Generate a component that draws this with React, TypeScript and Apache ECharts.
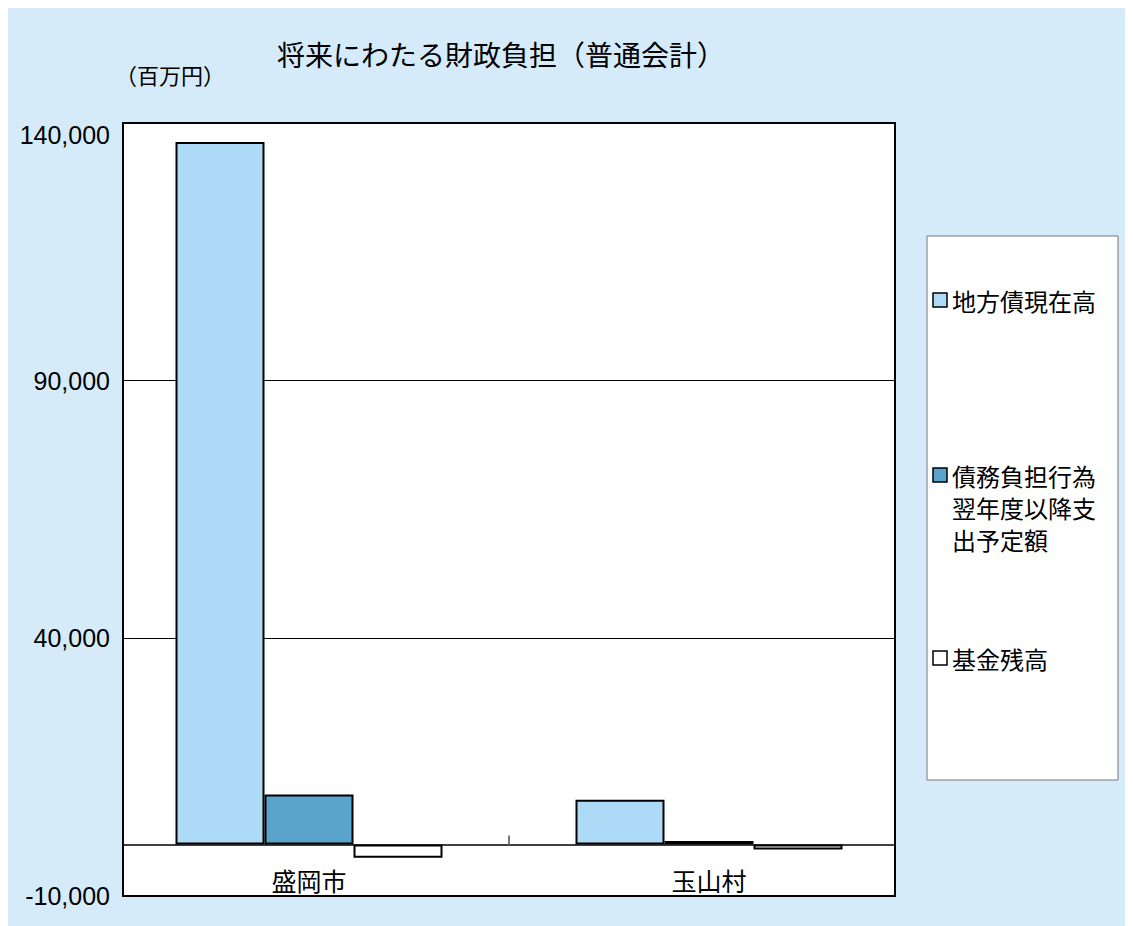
import { useEffect, useRef } from 'react';
import * as echarts from 'echarts';

// Municipalities compared
const categories = ['盛岡市', '玉山村'];

// Series names and the wrapped text shown in the legend box
const seriesNames = ['地方債現在高', '債務負担行為翌年度以降支出予定額', '基金残高'];
const legendLabels = ['地方債現在高', '債務負担行為\n翌年度以降支\n出予定額', '基金残高'];

// Values in millions of yen
const localBondBalance = [136300, 8700];
const futureCommitments = [9700, 650];
const fundBalance = [-2600, -1000];

const seriesColors = ['#ADDBF7', '#5AA3CB', '#FFFFFF'];

// Value axis range
const yMin = -10000;
const yMax = 140000;
const yStep = 50000;

const CJK = "'Noto Sans CJK JP', 'Noto Sans', sans-serif";
const NUM = "'Liberation Sans', Arial, sans-serif";

// Plot frame (chart coordinates)
const FRAME_LEFT = 115;
const FRAME_TOP = 115;
const FRAME_W = 772;
const FRAME_H = 773;
// distance from the frame bottom up to the zero line
const ZERO_FROM_BOTTOM = (FRAME_H * (0 - yMin)) / (yMax - yMin);

export default function App() {
  const ref = useRef<HTMLDivElement>(null);

  useEffect(() => {
    document.documentElement.style.overflow = 'hidden';
    const chart = echarts.init(ref.current!, null, { renderer: 'svg' });

    const seriesData = [localBondBalance, futureCommitments, fundBalance];

    const legendCenters = [292, 467, 650];
    const legendGraphics: any[] = [
      {
        type: 'rect',
        shape: { x: 919, y: 228, width: 191, height: 544 },
        style: { fill: '#fff', stroke: '#777', lineWidth: 1 },
      },
    ];
    legendLabels.forEach((label, i) => {
      const cy = legendCenters[i];
      const lines = label.split('\n').length;
      legendGraphics.push({
        type: 'rect',
        shape: { x: 925, y: cy - 7, width: 14, height: 14 },
        style: { fill: seriesColors[i], stroke: '#000', lineWidth: 1.5 },
      });
      legendGraphics.push({
        type: 'text',
        style: {
          text: label,
          x: 944,
          y: lines > 1 ? cy - 16 : cy,
          font: `24px ${CJK}`,
          fill: '#000',
          lineHeight: 32,
          textAlign: 'left',
          textVerticalAlign: lines > 1 ? 'top' : 'middle',
        },
      });
    });

    chart.setOption({
      animation: false,
      backgroundColor: '#D5EBF9',
      grid: [
        {
          left: FRAME_LEFT,
          top: FRAME_TOP,
          width: FRAME_W,
          height: FRAME_H,
          show: true,
          backgroundColor: '#FFFFFF',
          borderWidth: 0,
          containLabel: false,
          outerBoundsMode: 'none',
        },
        {
          left: FRAME_LEFT - 14,
          top: FRAME_TOP,
          width: FRAME_W + 28,
          height: FRAME_H,
          containLabel: false,
          outerBoundsMode: 'none',
        },
      ],
      xAxis: [
        {
          gridIndex: 0,
          type: 'category',
          data: categories,
          axisLine: { onZero: true, lineStyle: { color: '#000', width: 1.5 } },
          axisTick: { show: true, inside: true, length: 9, lineStyle: { color: '#777', width: 2 } },
          axisLabel: { show: false },
        },
        {
          gridIndex: 1,
          type: 'category',
          data: categories,
          position: 'bottom',
          offset: -ZERO_FROM_BOTTOM,
          axisLine: { show: false, onZero: false },
          axisTick: { show: false },
          axisLabel: { margin: 23, fontSize: 25, color: '#000', fontFamily: CJK },
        },
      ],
      yAxis: [
        {
          gridIndex: 0,
          type: 'value',
          min: yMin,
          max: yMax,
          interval: yStep,
          axisLine: { show: false },
          axisTick: { show: false },
          splitLine: { lineStyle: { color: '#000', width: 1 } },
          axisLabel: {
            margin: 13,
            fontSize: 25,
            color: '#000',
            fontFamily: NUM,
            formatter: (v: number) =>
              v === yMax ? `{top|${v.toLocaleString('en-US')}}` : v.toLocaleString('en-US'),
            rich: {
              top: { fontSize: 25, fontFamily: NUM, color: '#000', padding: [24, 0, 0, 0] },
            },
          },
        },
        { gridIndex: 1, type: 'value', min: yMin, max: yMax, interval: yStep, show: false },
      ],
      series: seriesNames.map((name, i) => ({
        name,
        type: 'bar',
        xAxisIndex: 1,
        yAxisIndex: 1,
        data: seriesData[i],
        barWidth: 89,
        barGap: '0%',
        itemStyle: { color: seriesColors[i], borderColor: '#000', borderWidth: 2 },
      })),
      graphic: [
        // plot frame drawn above the axis ticks
        {
          type: 'rect',
          z: 100,
          shape: { x: FRAME_LEFT, y: FRAME_TOP, width: FRAME_W, height: FRAME_H },
          style: { fill: 'none', stroke: '#000', lineWidth: 2 },
        },
        {
          type: 'text',
          style: {
            text: '将来にわたる財政負担（普通会計）',
            x: 493,
            y: 46,
            font: `28px ${CJK}`,
            fill: '#000',
            textAlign: 'center',
            textVerticalAlign: 'middle',
          },
        },
        {
          type: 'text',
          style: {
            text: '（百万円）',
            x: 162,
            y: 66,
            font: `22px ${CJK}`,
            fill: '#000',
            textAlign: 'center',
            textVerticalAlign: 'middle',
          },
        },
        ...legendGraphics,
      ],
    });

    return () => chart.dispose();
  }, []);

  return <div ref={ref} style={{ width: 1125, height: 918 }} />;
}
